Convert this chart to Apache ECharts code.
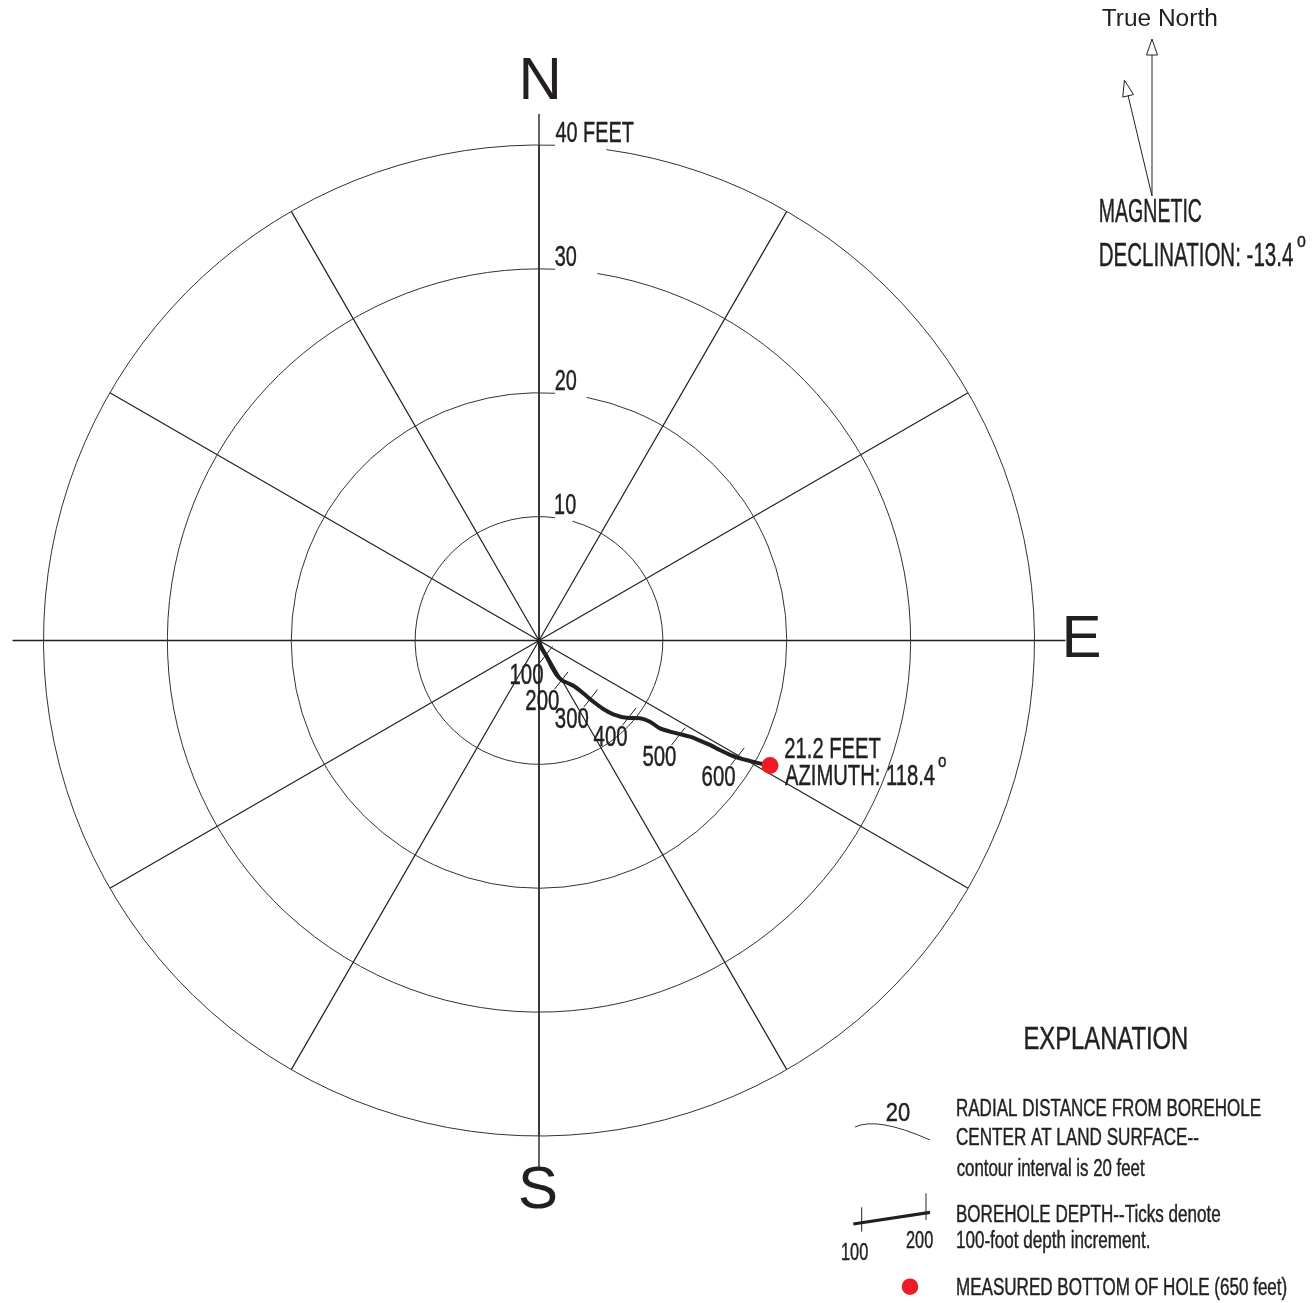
<!DOCTYPE html>
<html>
<head>
<meta charset="utf-8">
<script src="https://cdn.jsdelivr.net/npm/echarts@6/dist/echarts.min.js"></script>
<style>
  html, body { margin: 0; padding: 0; background: #ffffff; }
  #chart { width: 1315px; height: 1303px; }
</style>
</head>
<body>
<div id="chart"></div>
<script>
// Borehole deviation in plan view: radial distance (feet) vs. azimuth (degrees from true north)
const ringValues = [10, 20, 30, 40];
const ringLabels = ['10', '20', '30', '40 FEET'];
const cardinalNames = ['N', 'E', 'S'];
const cardinalAzimuths = [0, 90, 180];
const axisAzimuths = [0, 90, 180, 270];

// Trace of the borehole, land surface to bottom
const pathRadius = [0, 0.67, 1.45, 2.35, 3.13, 3.68, 4.19, 4.73, 5.56, 6.60, 7.58, 8.45, 9.43,
  10.29, 11.10, 12.07, 12.88, 13.66, 14.45, 15.30, 16.17, 17.07, 17.97, 18.80, 19.61, 20.40, 21.2];
const pathAzimuth = [160, 160.9, 154.6, 154.1, 152.8, 150.1, 145.6, 142.1, 140.0, 138.4, 136.8, 134.8, 131.4,
  127.6, 126.2, 126.0, 124.8, 123.6, 122.5, 121.9, 121.4, 121.2, 120.9, 120.4, 119.7, 119.1, 118.4];

// 100-foot depth ticks along the trace
const tickDepths = [100, 200, 300, 400, 500, 600];
const tickRadius = [1.29, 3.70, 6.26, 9.53, 13.65, 18.56];
const tickAzimuth = [154.9, 150.9, 138.1, 130.2, 124.5, 120.3];

// Measured bottom of hole
const bottomDepth = 650;
const bottomRadius = 21.2;
const bottomAzimuth = 118.4;

const declination = -13.4;

// ---- styling ----
const INK = '#231f20';
const RED = '#ed1c24';
const FONT = '"Liberation Sans", Arial, Helvetica, sans-serif';
const AXIS_REACH = 42.5;   // N-S and E-W axes run a little past the 40-foot ring

const measureCtx = document.createElement('canvas').getContext('2d');
function ink(str, size) {
  measureCtx.font = size + 'px ' + FONT;
  const m = measureCtx.measureText(str);
  return { left: -m.actualBoundingBoxLeft, w: m.actualBoundingBoxLeft + m.actualBoundingBoxRight };
}
function fitScale(str, size, width) {
  return width / ink(str, size).w;
}
// text whose ink is anchored at X (left/center/right) with its cap-height centred on Y
function txt(str, size, sx, X, Y, anchor) {
  const m = ink(str, size);
  const off = anchor === 'center' ? m.w / 2 : anchor === 'right' ? m.w : 0;
  const style = {
    text: str,
    font: size + 'px ' + FONT,
    fill: INK,
    align: 'left', textAlign: 'left',
    verticalAlign: 'middle', textVerticalAlign: 'middle'
  };
  if (sx < 0.95) { style.stroke = INK; style.lineWidth = 0.45; }
  return { type: 'text', x: X - (m.left + off) * sx, y: Y, scaleX: sx, silent: true, style: style };
}

const ringSize = 28.6, ringScale = fitScale('40 FEET', 28.6, 78);
const depthSize = 29, depthScale = fitScale('200', 29, 32.5);
const bottomSize = 29, bottomScale = fitScale('AZIMUTH: 118.4', 29, 150);

const chart = echarts.init(document.getElementById('chart'));

const option = {
  animation: false,
  backgroundColor: '#ffffff',
  polar: { center: [539, 640.5], radius: 495.5 },
  angleAxis: {
    type: 'value', min: 0, max: 360, interval: 30, startAngle: 90, clockwise: true,
    axisLine: { show: false }, axisTick: { show: false }, axisLabel: { show: false },
    splitLine: { show: true, lineStyle: { color: INK, width: 1.2 } }
  },
  radiusAxis: {
    type: 'value', min: 0, max: 40, interval: 10,
    axisLine: { show: false }, axisTick: { show: false }, axisLabel: { show: false },
    splitLine: { show: false }
  },
  series: [
    {
      // N, E, S, W axes, each reaching past the outer ring
      type: 'custom', coordinateSystem: 'polar', silent: true,
      data: axisAzimuths.map(a => [AXIS_REACH, a]),
      renderItem: function (params, api) {
        const c = api.coord([0, 0]);
        const rim = api.coord([40, api.value(1)]);
        const k = api.value(0) / 40;
        return {
          type: 'line',
          shape: { x1: c[0], y1: c[1], x2: c[0] + (rim[0] - c[0]) * k, y2: c[1] + (rim[1] - c[1]) * k },
          style: { stroke: INK, lineWidth: 1.4 }
        };
      }
    },
    {
      // distance rings, opened beside their labels
      type: 'custom', coordinateSystem: 'polar', silent: true,
      data: ringValues.map(v => [v, 0]),
      renderItem: function (params, api) {
        const c = api.coord([0, 0]);
        const top = api.coord([api.value(0), 0]);
        const r = c[1] - top[1];
        const gapStart = Math.asin(16 / r);
        const gapEnd = Math.acos(1 - 4.6 / r);
        return {
          type: 'group',
          children: [
            {
              type: 'arc',
              shape: { cx: c[0], cy: c[1], r: r,
                startAngle: -Math.PI / 2 + gapEnd,
                endAngle: -Math.PI / 2 + gapStart + 2 * Math.PI, clockwise: true },
              style: { stroke: '#333333', lineWidth: 1, fill: 'none' }
            },
            txt(ringLabels[params.dataIndex], ringSize, ringScale, c[0] + 16.5, top[1] - 0.358 * ringSize - 0.5, 'left')
          ]
        };
      }
    },
    {
      // borehole trace
      type: 'line', coordinateSystem: 'polar', clip: false, silent: true, symbol: 'none',
      smooth: 0.35, z: 5,
      lineStyle: { color: INK, width: 4 },
      data: pathRadius.map((r, i) => [r, pathAzimuth[i]])
    },
    {
      // depth ticks and their labels
      type: 'custom', coordinateSystem: 'polar', silent: true, z: 4,
      data: tickDepths.map((d, i) => [tickRadius[i], tickAzimuth[i], d]),
      renderItem: function (params, api) {
        const p = api.coord([api.value(0), api.value(1)]);
        const a = 52 * Math.PI / 180, h = 11;
        const dx = Math.cos(a) * h, dy = Math.sin(a) * h;
        return {
          type: 'group',
          children: [
            { type: 'line', shape: { x1: p[0] - dx, y1: p[1] + dy, x2: p[0] + dx, y2: p[1] - dy },
              style: { stroke: INK, lineWidth: 1 } },
            txt(String(api.value(2)), depthSize, depthScale, p[0] - 19, p[1] + 21.5, 'center')
          ]
        };
      }
    },
    {
      // bottom of hole
      type: 'scatter', coordinateSystem: 'polar', silent: true, z: 6,
      symbol: 'circle', symbolSize: 17,
      itemStyle: { color: RED, opacity: 1 },
      data: [[bottomRadius, bottomAzimuth]]
    },
    {
      // bottom-of-hole annotation
      type: 'custom', coordinateSystem: 'polar', silent: true, z: 6,
      data: [[bottomRadius, bottomAzimuth]],
      renderItem: function (params, api) {
        const p = api.coord([api.value(0), api.value(1)]);
        const line2 = 'AZIMUTH: ' + bottomAzimuth.toFixed(1);
        const w2 = ink(line2, bottomSize).w * bottomScale;
        return {
          type: 'group',
          children: [
            txt(bottomRadius.toFixed(1) + ' FEET', bottomSize, bottomScale, p[0] + 15, p[1] - 15.2, 'left'),
            txt(line2, bottomSize, bottomScale, p[0] + 15, p[1] + 11.8, 'left'),
            txt('o', 19, 0.8, p[0] + 15 + w2 + 3, p[1] - 3.7, 'left')
          ]
        };
      }
    },
    {
      // compass letters at the ends of the axes
      type: 'custom', coordinateSystem: 'polar', silent: true,
      data: cardinalAzimuths.map((a, i) => [AXIS_REACH, a, i]),
      renderItem: function (params, api) {
        const c = api.coord([0, 0]);
        const rim = api.coord([40, api.value(1)]);
        const k = api.value(0) / 40;
        const p = [c[0] + (rim[0] - c[0]) * k, c[1] + (rim[1] - c[1]) * k];
        const name = cardinalNames[params.dataIndex];
        if (name === 'N') return txt(name, 60, 1, p[0] + 1, p[1] - 32, 'center');
        if (name === 'E') return txt(name, 60, 1, p[0], p[1], 'left');
        return txt(name, 60, 1, p[0] - 1, p[1] + 24, 'center');
      }
    }
  ]
};

// ---- north arrows ----
function arrow(baseX, baseY, angleDeg, len) {
  const a = angleDeg * Math.PI / 180;
  const ux = Math.sin(a), uy = -Math.cos(a);
  const tip = [baseX + ux * len, baseY + uy * len];
  const hl = 16, hw = 5.5;
  const bc = [tip[0] - ux * hl, tip[1] - uy * hl];
  const nx = -uy, ny = ux;
  return [
    { type: 'line', silent: true, shape: { x1: baseX, y1: baseY, x2: bc[0], y2: bc[1] },
      style: { stroke: INK, lineWidth: 1 } },
    { type: 'polygon', silent: true,
      shape: { points: [tip, [bc[0] + nx * hw, bc[1] + ny * hw], [bc[0] - nx * hw, bc[1] - ny * hw]] },
      style: { fill: '#ffffff', stroke: INK, lineWidth: 1 } }
  ];
}

const decText = 'DECLINATION: ' + declination.toFixed(1);
const bottomText = 'MEASURED BOTTOM OF HOLE (' + bottomDepth + ' feet)';
const elements = [].concat(
  arrow(1152, 196, 0, 157),
  arrow(1152, 196, declination, 119),
  [
    txt('True North', 23.5, fitScale('True North', 23.5, 115), 1101.7, 20, 'left'),
    txt('MAGNETIC', 32.5, fitScale('MAGNETIC', 32.5, 101.7), 1100, 213.3, 'left'),
    txt(decText, 32.5, fitScale(decText, 32.5, 193.3), 1100, 256.7, 'left'),
    txt('o', 20, 0.8, 1297, 241, 'left'),

    txt('EXPLANATION', 30.5, fitScale('EXPLANATION', 30.5, 161.7), 1025, 1040.8, 'left'),

    // contour sample
    { type: 'bezierCurve', silent: true,
      shape: { x1: 855, y1: 1127, cpx1: 877.5, cpy1: 1116.5, x2: 930, y2: 1140 },
      style: { stroke: '#333333', lineWidth: 1, fill: 'none' } },
    txt('20', 25.6, fitScale('20', 25.6, 23.3), 886.7, 1114.2, 'left'),
    txt('RADIAL DISTANCE FROM BOREHOLE', 23.3, fitScale('RADIAL DISTANCE FROM BOREHOLE', 23.3, 304), 956.7, 1110, 'left'),
    txt('CENTER AT LAND SURFACE--', 23.3, fitScale('CENTER AT LAND SURFACE--', 23.3, 241.6), 956.7, 1138.7, 'left'),
    txt('contour interval is 20 feet', 23.3, fitScale('contour interval is 20 feet', 23.3, 188.3), 956.7, 1170, 'left'),

    // depth sample
    { type: 'line', silent: true, shape: { x1: 853.3, y1: 1224, x2: 930, y2: 1212.3 },
      style: { stroke: INK, lineWidth: 3.2 } },
    { type: 'line', silent: true, shape: { x1: 861.7, y1: 1207.3, x2: 861.7, y2: 1231.7 },
      style: { stroke: INK, lineWidth: 1 } },
    { type: 'line', silent: true, shape: { x1: 926, y1: 1193.3, x2: 926, y2: 1220 },
      style: { stroke: INK, lineWidth: 1 } },
    txt('100', 23.3, fitScale('100', 23.3, 26.6), 841.7, 1253.3, 'left'),
    txt('200', 23.3, fitScale('200', 23.3, 26.6), 906.7, 1241.7, 'left'),
    txt('BOREHOLE DEPTH--Ticks denote', 23.3, fitScale('BOREHOLE DEPTH--Ticks denote', 23.3, 263.3), 956.7, 1215.3, 'left'),
    txt('100-foot depth increment.', 23.3, fitScale('100-foot depth increment.', 23.3, 192.6), 956.7, 1241.7, 'left'),

    // bottom-of-hole sample
    { type: 'circle', silent: true, shape: { cx: 910, cy: 1286.7, r: 8.3 }, style: { fill: RED } },
    txt(bottomText, 23.3, fitScale(bottomText, 23.3, 330), 956.7, 1288.3, 'left')
  ]
);
option.graphic = { elements: elements };

chart.setOption(option);
</script>
</body>
</html>
